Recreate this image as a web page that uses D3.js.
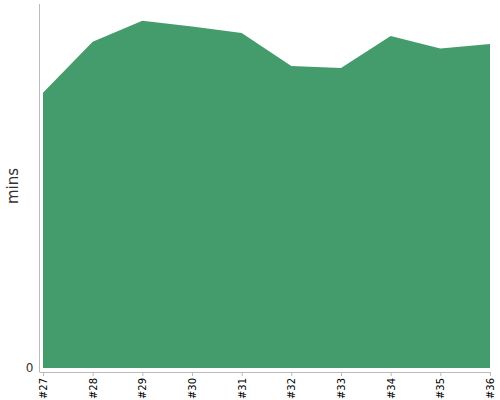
<!DOCTYPE html>
<html>
<head>
<meta charset="utf-8">
<script src="https://cdn.jsdelivr.net/npm/d3@7"></script>
<style>
  body { margin: 0; background: #fff; }
  .axis text { font-family: "DejaVu Sans", sans-serif; fill: #000; }
</style>
</head>
<body>
<svg class="chart" width="500" height="400"></svg>
<script>
const sprints = ["#27", "#28", "#29", "#30", "#31", "#32", "#33", "#34", "#35", "#36"];
const mins = [37.8, 44.8, 47.7, 46.9, 46.0, 41.5, 41.2, 45.6, 43.9, 44.5];
const yTicks = [0];

const svg = d3.select(".chart");

const x = d3.scalePoint().domain(sprints).range([43, 490]);
const y = d3.scaleLinear().domain([0, 50]).range([368, 4]);

const data = sprints.map((s, i) => ({ sprint: s, value: mins[i] }));

const area = d3
  .area()
  .x((d) => x(d.sprint))
  .y0(y(0))
  .y1((d) => y(d.value));

svg.append("path").datum(data).attr("d", area).attr("fill", "#449c6c");

// y axis
const yAxis = svg
  .append("g")
  .attr("class", "axis")
  .attr("transform", "translate(39.5,0)")
  .call(d3.axisLeft(y).tickValues(yTicks).tickSize(0).tickPadding(6));
yAxis.select(".domain").remove();
yAxis.selectAll("text").style("font-size", "12px").style("fill", "#333");
svg
  .append("line")
  .attr("x1", 39.5)
  .attr("x2", 39.5)
  .attr("y1", 4)
  .attr("y2", 372)
  .attr("stroke", "#bbb");

// x axis
const xAxis = svg
  .append("g")
  .attr("class", "axis")
  .attr("transform", "translate(0,372)")
  .call(d3.axisBottom(x).tickSize(4).tickPadding(3));
xAxis.select(".domain").remove();
xAxis.selectAll(".tick line").attr("stroke", "#bbb");
xAxis
  .selectAll("text")
  .style("font-size", "10px")
  .attr("transform", "rotate(-90)")
  .attr("text-anchor", "end")
  .attr("x", -6)
  .attr("y", 0)
  .attr("dy", "0.35em");
svg
  .append("line")
  .attr("x1", 39.5)
  .attr("x2", 491)
  .attr("y1", 372.5)
  .attr("y2", 372.5)
  .attr("stroke", "#bbb");

svg
  .append("text")
  .attr("transform", "translate(18,186) rotate(-90)")
  .attr("text-anchor", "middle")
  .style("font-family", "DejaVu Sans, sans-serif")
  .style("font-size", "15px")
  .style("fill", "#333")
  .text("mins");
</script>
</body>
</html>
